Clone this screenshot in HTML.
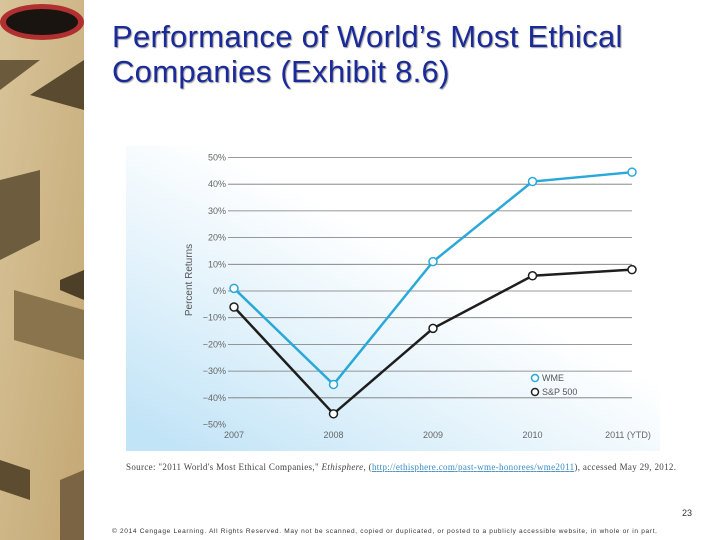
<!DOCTYPE html>
<html><head><meta charset="utf-8"><style>
body{margin:0;width:720px;height:540px;overflow:hidden;background:#fff;font-family:"Liberation Sans",sans-serif;position:relative}
.t{position:absolute;left:112px;top:19px;font-size:31px;letter-spacing:0.3px;line-height:35px;color:#1a2a9a;text-shadow:1px 1px 1px #999;white-space:nowrap}
</style></head><body>
<svg style="position:absolute;left:0;top:0" width="84" height="540">
<defs><linearGradient id="m" x1="0" y1="0" x2="1" y2="1"><stop offset="0" stop-color="#d8c49a"/><stop offset="1" stop-color="#c4a874"/></linearGradient></defs>
<rect width="84" height="540" fill="url(#m)"/>
<ellipse cx="42" cy="22" rx="42" ry="18" fill="#b03030"/><ellipse cx="42" cy="22" rx="36" ry="13" fill="#1a1410"/>
<polygon points="0,60 40,60 0,90" fill="#6b5a3c"/><polygon points="30,95 84,60 84,110" fill="#5a4a30"/>
<polygon points="0,180 40,170 40,240 0,260" fill="#6e5c3e"/><polygon points="60,280 84,270 84,300 60,290" fill="#4e4028"/>
<polygon points="14,290 84,310 84,360 14,340" fill="#8a744e"/><polygon points="0,460 30,470 30,500 0,490" fill="#5e4c30"/>
<polygon points="60,480 84,470 84,540 60,540" fill="#7a6444"/>
</svg>
<div class="t">Performance of World’s Most Ethical<br>Companies (Exhibit 8.6)</div>
<svg id="c" style="position:absolute;left:0;top:0" width="720" height="540">
<defs><linearGradient id="bg" x1="0" y1="0.9" x2="0.75" y2="0.1"><stop offset="0" stop-color="#c2e4f7"/><stop offset="0.35" stop-color="#e2f2fb"/><stop offset="0.7" stop-color="#fff"/></linearGradient></defs>
<rect x="126" y="146" width="534" height="305" fill="url(#bg)"/>
<text transform="translate(192,280) rotate(-90)" text-anchor="middle" font-size="10" fill="#555">Percent Returns</text>
<g id="g"></g>
<g>
<circle cx="535" cy="378" r="3.5" fill="#fff" stroke="#2aa8d8" stroke-width="1.5"/><text x="542" y="381" font-size="9" fill="#555">WME</text>
<circle cx="535" cy="392" r="3.5" fill="#fff" stroke="#222" stroke-width="1.5"/><text x="542" y="395" font-size="9" fill="#555">S&amp;P 500</text>
</g>
<text x="126" y="470" font-family="Liberation Serif" font-size="9" fill="#444" textLength="550" lengthAdjust="spacing">Source: "2011 World's Most Ethical Companies," <tspan font-style="italic">Ethisphere</tspan>, (<tspan fill="#3a8ac0" text-decoration="underline">http://ethisphere.com/past-wme-honorees/wme2011</tspan>), accessed May 29, 2012.</text>
<text x="692" y="516" text-anchor="end" font-size="9" fill="#333">23</text>
<text x="112" y="533" font-size="6.5" fill="#333" textLength="545" lengthAdjust="spacing">© 2014 Cengage Learning. All Rights Reserved. May not be scanned, copied or duplicated, or posted to a publicly accessible website, in whole or in part.</text>
</svg>
<script>
const categories=["2007","2008","2009","2010","2011 (YTD)"];
const wme=[1,-35,11,41,44.5];
const sp=[-6,-46,-14,5.7,8];
const yTicks=[50,40,30,20,10,0,-10,-20,-30,-40,-50];
const yLabels=["50%","40%","30%","20%","10%","0%","−10%","−20%","−30%","−40%","−50%"];
const NS="http://www.w3.org/2000/svg";
const g=document.getElementById('g');
const y=v=>291-(v*26.7/10);
const x=i=>234+i*99.5;
function mk(t,a){const e=document.createElementNS(NS,t);for(const k in a)e.setAttribute(k,a[k]);g.appendChild(e);return e;}
yTicks.forEach((v,i)=>{
 if(v>-50){const l=mk('line',{x1:228,x2:632,y1:y(v),y2:y(v),stroke:'#777','stroke-width':0.8});
 
 }
 const t=mk('text',{x:226,y:y(v)+3,'text-anchor':'end','font-size':9,fill:'#666'});t.textContent=yLabels[i];
 
 
});
categories.forEach((c,i)=>{const t=mk('text',{x:i==4?x(i)-4:x(i),y:438,'text-anchor':'middle','font-size':9,fill:'#666'});t.textContent=c;
 
 });
function series(d,col,name){
 const p=mk('polyline',{points:d.map((v,i)=>x(i)+','+y(v)).join(' '),fill:'none',stroke:col,'stroke-width':2.5});
 
 
 d.forEach((v,i)=>{const c=mk('circle',{cx:x(i),cy:y(v),r:4,fill:'#fff',stroke:col,'stroke-width':1.5});
 
 });
}
series(sp,'#1e1e1e','sp500');
series(wme,'#2aa8d8','wme');
</script>
</body></html>
